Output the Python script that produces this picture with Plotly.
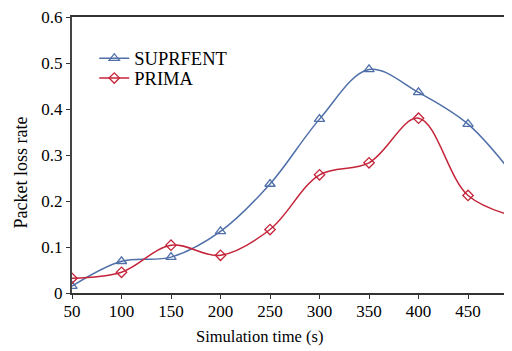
import plotly.graph_objects as go

sim_time = [50, 100, 150, 200, 250, 300, 350, 400, 450, 500]
suprfent = [0.015, 0.069, 0.078, 0.134, 0.237, 0.378, 0.486, 0.436, 0.367, 0.245]
prima = [0.032, 0.045, 0.104, 0.082, 0.138, 0.257, 0.283, 0.380, 0.212, 0.165]
x_ticks = [50, 100, 150, 200, 250, 300, 350, 400, 450]
y_ticks = [0, 0.1, 0.2, 0.3, 0.4, 0.5, 0.6]
y_tick_text = ["0", "0.1", "0.2", "0.3", "0.4", "0.5", "0.6"]

BLUE = "#4f6fa8"
RED = "#c4253a"
FONT = "Liberation Serif"

fig = go.Figure()
fig.add_trace(go.Scatter(
    x=sim_time, y=suprfent, name="SUPRFENT", mode="lines+markers", legend="legend",
    line=dict(color=BLUE, width=1.5, shape="spline", smoothing=1),
    marker=dict(symbol="triangle-up-open", size=9, color=BLUE, line=dict(width=1.3)),
))
fig.add_trace(go.Scatter(
    x=sim_time, y=prima, name="PRIMA", mode="lines+markers", legend="legend2",
    line=dict(color=RED, width=1.5, shape="spline", smoothing=1),
    marker=dict(symbol="diamond-open", size=8, color=RED, line=dict(width=1.3)),
))

leg_common = dict(xanchor="left", yanchor="middle", bgcolor="rgba(0,0,0,0)",
                  font=dict(family=FONT, size=18.5, color="black"))

fig.update_layout(
    width=504, height=343,
    margin=dict(l=63.7, r=0, t=7, b=58),
    paper_bgcolor="white", plot_bgcolor="white",
    font=dict(family=FONT, size=17, color="black"),
    showlegend=True,
    legend=dict(x=0.0506, y=0.849, **leg_common),
    legend2=dict(x=0.0506, y=0.777, **leg_common),
    xaxis=dict(
        range=[50, 494.4], tickvals=x_ticks, ticks="outside", ticklen=4,
        tickcolor="#333", showgrid=False, zeroline=False, ticklabelstandoff=-2,
        showline=True, linecolor="#333", linewidth=2, mirror=True,
        tickfont=dict(family=FONT, size=17, color="black"),
    ),
    yaxis=dict(
        range=[0, 0.6], tickvals=y_ticks, ticktext=y_tick_text, ticks="outside",
        ticklen=4, tickcolor="#333", showgrid=False, zeroline=False,
        showline=True, linecolor="#444", linewidth=2, ticklabeloverflow="allow",
        tickfont=dict(family=FONT, size=17, color="black"),
    ),
    annotations=[
        dict(text="500", xref="paper", yref="paper", x=1.0114, y=-0.0647,
             yanchor="middle", xanchor="center", showarrow=False,
             font=dict(family=FONT, size=17, color="black")),
        dict(text="Simulation time (s)", xref="paper", yref="paper", x=0.4265, y=-0.158,
             xanchor="center", yanchor="middle", showarrow=False,
             font=dict(family=FONT, size=16.5, color="black")),
        dict(text="Packet loss rate", xref="paper", yref="paper", x=-0.117, y=0.435,
             xanchor="center", yanchor="middle", textangle=-90, showarrow=False,
             font=dict(family=FONT, size=18, color="black")),
    ],
)

fig.write_html("out.html")
